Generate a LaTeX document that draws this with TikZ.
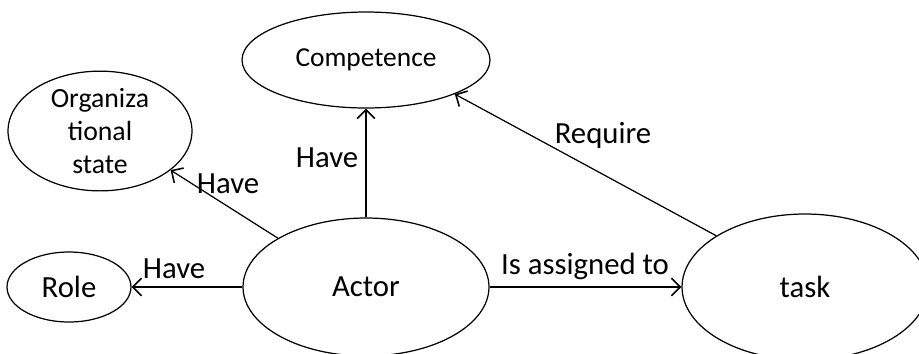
\documentclass[tikz,border=0pt]{standalone}
\usepackage{fontspec}
\setmainfont{Carlito}
\usetikzlibrary{shapes.geometric,arrows.meta}
\begin{document}
\begin{tikzpicture}[x=0.02cm, y=-0.02cm,
  every node/.style={font=\fontsize{17.5}{20}\selectfont},
  ent/.style={draw, ellipse, line width=0.7pt, inner sep=0pt, align=center},
  lbl/.style={anchor=base, inner sep=0pt},
  arr/.style={line width=0.7pt, -{Straight Barb[length=5pt,width=10pt,line width=0.9pt]}}]
\useasboundingbox (0,0) rectangle (919,353);
% Entities
\node[ent, minimum width=4.96cm, minimum height=1.92cm, font=\fontsize{15.6}{18.5}\selectfont] (comp) at (366,60) {Competence};
\node[ent, minimum width=3.68cm, minimum height=1.92cm, font=\fontsize{15.8}{18.6}\selectfont] (org) at (100,131) {Organiza\\tional\\state};
\node[ent, minimum width=2.48cm, minimum height=1.40cm] (role) at (69,287) {Role};
\node[ent, minimum width=4.92cm, minimum height=2.76cm] (actor) at (366,287) {Actor};
\node[ent, minimum width=4.92cm, minimum height=2.92cm] (task) at (805,287) {task};
% Relations
\draw[arr] (actor.151) -- (org.-29);
\draw[arr] (actor.north) -- (comp.south);
\draw[arr] (actor.west) -- (role.east);
\draw[arr] (actor.east) -- (task.west);
\draw[arr] (task.150) -- (comp.-21);
% Labels
\node[lbl] (haveorg) at (228,193) {Have};
\node[lbl] (havecomp) at (327,167) {Have};
\node[lbl] (haverole) at (174,278) {Have};
\node[lbl] (assigned) at (585,274) {Is assigned to};
\node[lbl] (require) at (603,143) {Require};
\end{tikzpicture}
\end{document}
